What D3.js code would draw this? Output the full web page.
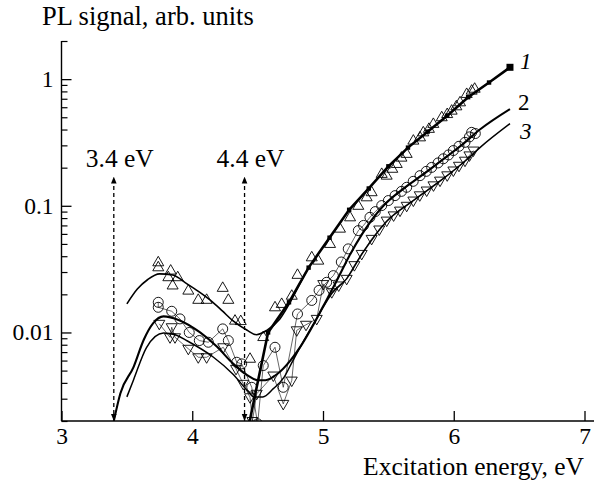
<!DOCTYPE html>
<html><head><meta charset="utf-8">
<script src="https://cdn.jsdelivr.net/npm/d3@7"></script>
<style>
html,body{margin:0;padding:0;background:#fff;}
svg{display:block;}
svg text{font-family:"Liberation Serif","Times New Roman",Times,"DejaVu Serif",serif;}
</style></head><body>
<svg id="chart" width="594" height="484"></svg>
<script>
// Axis ticks and labels
const xTicks = [3, 4, 5, 6, 7];
const yMajorTicks = [0.01, 0.1, 1];
const yMajorLabels = ["0.01", "0.1", "1"];
const yDomain = [0.002, 2];
const xDomain = [3, 7];

// Sample 1: measured points (open up-triangles)
const s1Points = [
  [3.74,0.0358],[3.74,0.0327],[3.835,0.0308],[3.817,0.0273],[3.85,0.0235],[3.889,0.0273],
  [3.97,0.0214],[4.046,0.0181],[4.11,0.0181],[4.233,0.0225],[4.276,0.0181],[4.327,0.0124],
  [4.371,0.0123],[4.442,0.0062],[4.543,0.0092],[4.633,0.0158],[4.684,0.0168],[4.761,0.0195],
  [4.805,0.0285],[4.914,0.0392],[4.964,0.0369],[5.054,0.050],[5.13,0.066],[5.207,0.0811],
  [5.27,0.100],[5.334,0.1167],[5.372,0.128],[5.449,0.1786],[5.487,0.173],[5.53,0.196],
  [5.564,0.214],[5.60,0.240],[5.64,0.257],[5.691,0.327],[5.742,0.347],[5.767,0.380],
  [5.81,0.405],[5.844,0.443],[5.908,0.50],[5.95,0.53],[5.984,0.564],[6.02,0.61],
  [6.048,0.656],[6.099,0.764],[6.137,0.811],[6.16,0.84]
];
// Sample 1: connected trace with filled squares
const s1Trace = [
  [4.43,0.0018],[4.58,0.0100],[4.74,0.0173],[4.89,0.0325],[5.05,0.056],[5.20,0.093],
  [5.35,0.137],[5.50,0.205],[5.65,0.288],[5.80,0.385],[5.95,0.515],[6.11,0.72],
  [6.27,0.94],[6.43,1.24]
];
// Sample 1: smooth curve, low-energy band
const s1Fit = [
  [3.50,0.0168],[3.58,0.022],[3.66,0.0262],[3.75,0.0290],[3.85,0.0284],[3.96,0.0242],
  [4.05,0.0210],[4.14,0.0179],[4.23,0.0148],[4.31,0.0124],[4.42,0.0104],[4.49,0.0096],
  [4.57,0.0104],[4.67,0.0128],[4.77,0.0190],[4.82,0.0240],[4.87,0.0300]
];

// Sample 2: measured points (open circles)
const s2Points = [
  [3.74,0.0173],[3.74,0.0158],[3.843,0.0147],[3.906,0.0128],[3.977,0.0100],[4.054,0.00863],
  [4.123,0.00837],[4.233,0.01067],[4.276,0.00863],[4.34,0.00582],[4.378,0.00565],[4.455,0.00369],
  [4.50,0.0019],[4.543,0.00548],[4.633,0.00764],[4.696,0.00369],[4.805,0.0140],[4.914,0.0179],
  [4.97,0.0215],[5.028,0.0249],[5.079,0.0281],[5.14,0.036],[5.193,0.0457],[5.27,0.0637],
  [5.31,0.070],[5.359,0.0811],[5.40,0.090],[5.449,0.1004],[5.50,0.110],[5.551,0.1203],
  [5.60,0.130],[5.64,0.140],[5.69,0.156],[5.742,0.173],[5.79,0.187],[5.831,0.201],
  [5.88,0.218],[5.92,0.235],[5.96,0.252],[5.997,0.273],[6.04,0.295],[6.086,0.317],
  [6.12,0.350],[6.137,0.380],[6.165,0.372]
];
// Sample 2: smooth curve
const s2Fit = [
  [3.40,0.0020],[3.45,0.0033],[3.55,0.0053],[3.63,0.0088],[3.70,0.0118],[3.78,0.0134],
  [3.90,0.0125],[4.06,0.0100],[4.19,0.0077],[4.31,0.0057],[4.42,0.0046],[4.50,0.0042],
  [4.56,0.0042],[4.65,0.0047],[4.75,0.0060],[4.83,0.0078],[4.92,0.0112],[5.00,0.0160],
  [5.10,0.0250],[5.20,0.0400],[5.30,0.0600],[5.45,0.0970],[5.60,0.1330],[5.75,0.1720],
  [5.90,0.2250],[6.05,0.2950],[6.20,0.4000],[6.43,0.5800]
];

// Sample 3: measured points (open down-triangles)
const s3Points = [
  [3.748,0.0117],[3.843,0.0110],[3.83,0.00916],[3.868,0.00916],[3.97,0.00743],[4.046,0.00637],
  [4.11,0.00637],[4.237,0.00764],[4.335,0.00516],[4.39,0.00393],[4.442,0.00308],[4.46,0.0020],
  [4.493,0.00328],[4.62,0.00457],[4.696,0.00273],[4.761,0.00417],[4.799,0.0104],[4.87,0.0115],
  [4.952,0.0128],[5.002,0.0241],[5.067,0.0208],[5.12,0.0235],[5.181,0.0265],[5.24,0.034],
  [5.296,0.0417],[5.372,0.0548],[5.43,0.065],[5.487,0.0764],[5.54,0.084],[5.589,0.0916],
  [5.64,0.100],[5.691,0.110],[5.74,0.121],[5.793,0.132],[5.845,0.145],[5.895,0.158],
  [5.95,0.174],[5.997,0.190],[6.04,0.207],[6.086,0.227],[6.12,0.250],[6.15,0.273]
];
// Sample 3: smooth curve
const s3Fit = [
  [3.50,0.0031],[3.55,0.0042],[3.65,0.0076],[3.78,0.0099],[3.88,0.0095],[3.96,0.0086],
  [4.16,0.0064],[4.31,0.0047],[4.43,0.0034],[4.47,0.0031],[4.54,0.0031],[4.62,0.0036],
  [4.70,0.0044],[4.77,0.0060],[4.85,0.0085],[4.95,0.0128],[5.07,0.0205],[5.18,0.0265],
  [5.30,0.0420],[5.49,0.0760],[5.69,0.1100],[5.90,0.1580],[6.09,0.2270],[6.20,0.2880],
  [6.43,0.4450]
];

// Marked excitation energies (eV) and arrow top level
const markedEnergies = [3.4, 4.4];
const markedLabels = ["3.4 eV", "4.4 eV"];
const arrowTop = 0.17;
const seriesNames = ["1", "2", "3"];

const SERIF = "'Liberation Serif','Times New Roman',Times,'DejaVu Serif',serif";
const svg = d3.select("#chart");
const x = d3.scaleLinear().domain(xDomain).range([61.5, 584.5]);
const y = d3.scaleLog().domain(yDomain).range([421, 41]);
const FS = 25.5;      // axis titles and annotations
const FS_TICK = 23.5; // tick labels

const defs = svg.append("defs");
defs.append("clipPath").attr("id", "plotClip")
  .append("rect").attr("x", x(3)).attr("y", 0).attr("width", 594 - x(3)).attr("height", y(yDomain[0]));
defs.append("marker").attr("id", "arrowEnd").attr("viewBox", "0 0 10 10")
  .attr("refX", 10).attr("refY", 5).attr("markerWidth", 7).attr("markerHeight", 7)
  .attr("markerUnits", "userSpaceOnUse").attr("orient", "auto-start-reverse")
  .append("path").attr("d", "M0,1 L10,5 L0,9 Z").attr("fill", "#000");

// X axis
const xAxis = d3.axisBottom(x).tickValues(xTicks).tickSizeInner(-10).tickSizeOuter(0).tickPadding(6)
  .tickFormat(d3.format("d"));
const gx = svg.append("g").attr("transform", `translate(0,${y(yDomain[0])})`).call(xAxis)
  .attr("font-family", SERIF);
gx.select(".domain").remove();
gx.selectAll(".tick line").attr("stroke", "#000").attr("stroke-width", 1.3);
gx.selectAll(".tick text").attr("font-size", FS_TICK).attr("fill", "#000").attr("dy", "0.74em");
svg.append("line").attr("x1", x(3)).attr("x2", 594).attr("y1", y(yDomain[0])).attr("y2", y(yDomain[0]))
  .attr("stroke", "#000").attr("stroke-width", 1.4);

// Y axis: majors with labels, minors 2..9 per decade
const minors = [];
for (let e = -3; e <= 0; e++) for (let k = 2; k <= 9; k++) {
  const v = k * Math.pow(10, e);
  if (v >= yDomain[0] - 1e-12 && v <= yDomain[1] + 1e-12) minors.push(+v.toPrecision(3));
}
const yAxisMinor = d3.axisLeft(y).tickValues(minors).tickSizeInner(-6).tickSizeOuter(0).tickFormat("");
const gyMinor = svg.append("g").attr("transform", `translate(${x(3)},0)`).call(yAxisMinor);
gyMinor.select(".domain").remove();
gyMinor.selectAll(".tick line").attr("stroke", "#000").attr("stroke-width", 1.2);

const yAxis = d3.axisLeft(y).tickValues(yMajorTicks).tickSizeInner(-10).tickSizeOuter(0).tickPadding(8)
  .tickFormat((d, i) => yMajorLabels[i]);
const gy = svg.append("g").attr("transform", `translate(${x(3)},0)`).call(yAxis)
  .attr("font-family", SERIF);
gy.select(".domain").remove();
gy.selectAll(".tick line").attr("stroke", "#000").attr("stroke-width", 1.3);
gy.selectAll(".tick text").attr("font-size", FS_TICK).attr("fill", "#000");
svg.append("line").attr("x1", x(3)).attr("x2", x(3)).attr("y1", y(yDomain[1])).attr("y2", y(yDomain[0]))
  .attr("stroke", "#000").attr("stroke-width", 1.4);

// Axis titles
svg.append("text").attr("x", 42).attr("y", 25).attr("font-size", 26.5).attr("font-family", SERIF)
  .text("PL signal, arb. units");
svg.append("text").attr("x", 584).attr("y", 475).attr("text-anchor", "end").attr("font-size", FS)
  .attr("font-family", SERIF).text("Excitation energy, eV");

// Dashed double arrows at the marked energies
markedEnergies.forEach((e, i) => {
  svg.append("line").attr("x1", x(e)).attr("x2", x(e)).attr("y1", y(yDomain[0])).attr("y2", y(arrowTop))
    .attr("stroke", "#000").attr("stroke-width", 1.3).attr("stroke-dasharray", "4,3")
    .attr("marker-start", "url(#arrowEnd)").attr("marker-end", "url(#arrowEnd)");
  svg.append("text").attr("x", x(e) - 28).attr("y", y(arrowTop) - 10).attr("font-size", FS)
    .attr("font-family", SERIF).text(markedLabels[i]);
});

const plot = svg.append("g").attr("clip-path", "url(#plotClip)");
const lineLin = d3.line().x(d => x(d[0])).y(d => y(d[1]));
const smooth = d3.line().x(d => x(d[0])).y(d => y(d[1])).curve(d3.curveMonotoneX);
const byX = arr => arr.slice().sort((a, b) => a[0] - b[0]);

// Thin connecting traces through the measured points of samples 2 and 3
plot.append("path").datum(byX(s2Points)).attr("d", lineLin).attr("fill", "none")
  .attr("stroke", "#000").attr("stroke-width", 0.6);
plot.append("path").datum(byX(s3Points)).attr("d", lineLin).attr("fill", "none")
  .attr("stroke", "#000").attr("stroke-width", 0.6);

// Smooth curves
plot.append("path").datum(s1Fit).attr("d", smooth).attr("fill", "none").attr("stroke", "#000").attr("stroke-width", 1.6);
plot.append("path").datum(s2Fit).attr("d", smooth).attr("fill", "none").attr("stroke", "#000").attr("stroke-width", 2.1);
plot.append("path").datum(s3Fit).attr("d", smooth).attr("fill", "none").attr("stroke", "#000").attr("stroke-width", 1.5);

// Markers
const triUp = "M0,-6L5.5,3.5L-5.5,3.5Z";
const triDown = "M0,6L5.5,-3.5L-5.5,-3.5Z";
plot.selectAll(".s1").data(s1Points).join("path").attr("class", "s1")
  .attr("transform", d => `translate(${x(d[0])},${y(d[1])})`).attr("d", triUp)
  .attr("fill", "none").attr("stroke", "#000").attr("stroke-width", 0.9);
plot.selectAll(".s2").data(s2Points).join("circle").attr("class", "s2")
  .attr("cx", d => x(d[0])).attr("cy", d => y(d[1])).attr("r", 5)
  .attr("fill", "none").attr("stroke", "#000").attr("stroke-width", 0.9);
plot.selectAll(".s3").data(s3Points).join("path").attr("class", "s3")
  .attr("transform", d => `translate(${x(d[0])},${y(d[1])})`).attr("d", triDown)
  .attr("fill", "none").attr("stroke", "#000").attr("stroke-width", 0.9);

// Sample 1 trace with filled squares
plot.append("path").datum(s1Trace).attr("d", lineLin).attr("fill", "none")
  .attr("stroke", "#000").attr("stroke-width", 2.6);
plot.selectAll(".sq").data(s1Trace).join("rect").attr("class", "sq")
  .attr("x", (d, i) => x(d[0]) - (i === s1Trace.length - 1 ? 3.5 : 2.2))
  .attr("y", (d, i) => y(d[1]) - (i === s1Trace.length - 1 ? 3.5 : 2.2))
  .attr("width", (d, i) => i === s1Trace.length - 1 ? 7 : 4.4)
  .attr("height", (d, i) => i === s1Trace.length - 1 ? 7 : 4.4).attr("fill", "#000");

// Series numbers at the ends of the curves
const ends = [s1Trace[s1Trace.length - 1], s2Fit[s2Fit.length - 1], s3Fit[s3Fit.length - 1]];
const labelOffsets = [[10, 2], [8, 1], [10, 15]];
const italics = [true, false, true];
ends.forEach((d, i) => {
  svg.append("text").attr("x", x(d[0]) + labelOffsets[i][0]).attr("y", y(d[1]) + labelOffsets[i][1])
    .attr("font-size", 23).attr("font-family", SERIF)
    .attr("font-style", italics[i] ? "italic" : "normal").text(seriesNames[i]);
});
</script>
</body></html>
